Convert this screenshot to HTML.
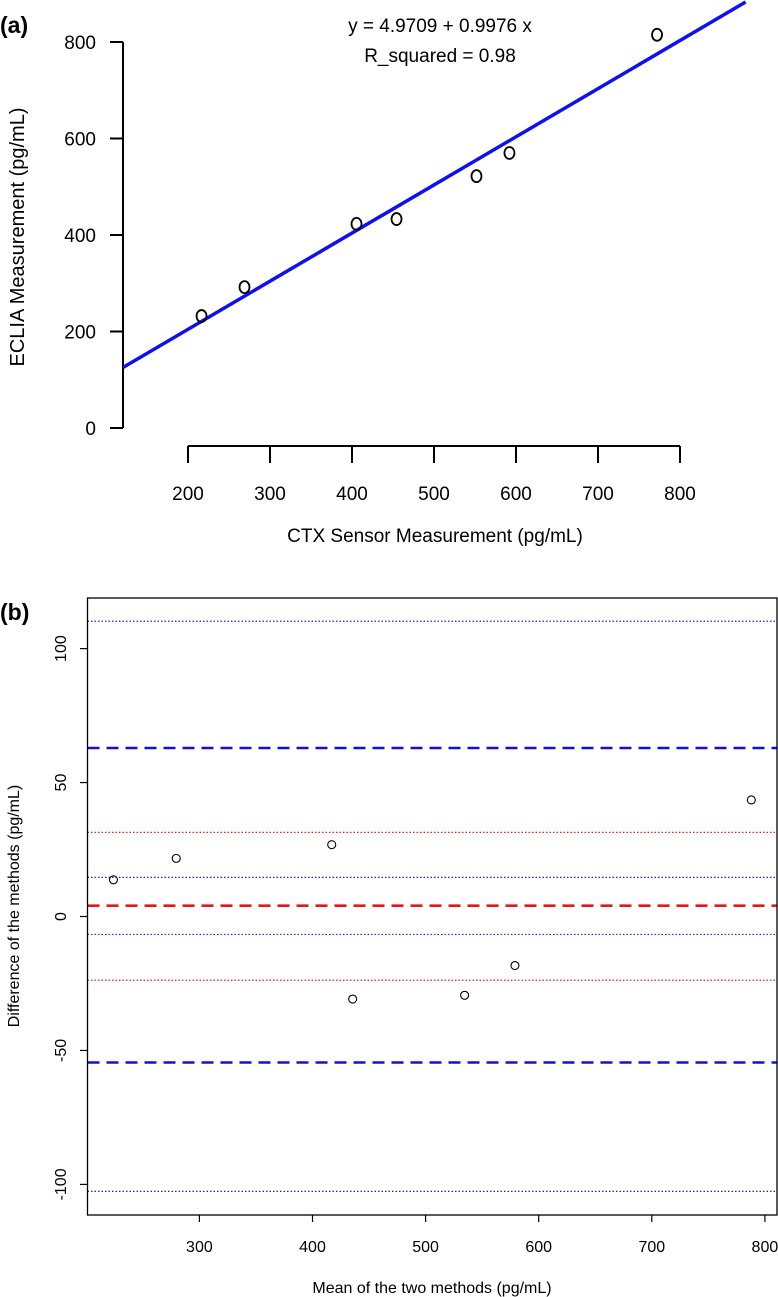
<!DOCTYPE html>
<html><head><meta charset="utf-8"><style>
body{margin:0;background:#fff;}
svg{display:block;font-family:"Liberation Sans",sans-serif;}
</style></head><body>
<svg id="c" width="778" height="1297" viewBox="0 0 778 1297"></svg>
<script>
// Panel (a) data
const aXTicks=[200,300,400,500,600,700,800];
const aYTicks=[0,200,400,600,800];
const aX=[216.5,268.9,405.5,454.3,551.8,592,772];
const aY=[232,292,423,433,522,570,815];
const regIntercept=4.9709, regSlope=0.9976;
// Panel (b) data
const bXTicks=[300,400,500,600,700,800];
const bYTicks=[-100,-50,0,50,100];
const bX=[224,279.5,417,435.5,534.5,579,788];
const bY=[13.7,21.7,26.8,-30.8,-29.4,-18.3,43.5];
const bLinesBlueDashed=[62.9,-54.5];
const bLinesBlueDotted=[110.2,14.6,-6.7,-102.6];
const bLineRedDashed=[4.05];
const bLinesRedDotted=[31.4,-23.8];

const NS="http://www.w3.org/2000/svg";
const svg=document.getElementById('c');
function mk(t,a,txt){const e=document.createElementNS(NS,t);for(const k in a)e.setAttribute(k,a[k]);if(txt!==undefined)e.textContent=txt;svg.appendChild(e);return e;}

// ---- Panel (a)
const ax=v=>188+(v-200)*0.82, ay=v=>428-v*0.4825;
let e;
e=mk('text',{x:0,y:33,'font-size':23,'font-weight':'bold'},'(a)');


e=mk('line',{x1:123,y1:ay(800),x2:123,y2:ay(0),stroke:'#000','stroke-width':2});


aYTicks.forEach(v=>{
 e=mk('line',{x1:110,y1:ay(v),x2:123,y2:ay(v),stroke:'#000','stroke-width':2});
 
 
 e=mk('text',{x:96,y:ay(v)+7,'font-size':19,'text-anchor':'end'},String(v));
 
 
});
e=mk('line',{x1:ax(200),y1:446,x2:ax(800),y2:446,stroke:'#000','stroke-width':2});


aXTicks.forEach(v=>{
 e=mk('line',{x1:ax(v),y1:446,x2:ax(v),y2:463,stroke:'#000','stroke-width':2});
 
 
 e=mk('text',{x:ax(v),y:500,'font-size':19,'text-anchor':'middle'},String(v));
 
 
});
const x0=121,x1=880;
e=mk('line',{x1:ax(x0),y1:ay(regIntercept+regSlope*x0),x2:ax(x1),y2:ay(regIntercept+regSlope*x1),stroke:'#1010e8','stroke-width':3.5});


aX.forEach((v,i)=>{
 e=mk('ellipse',{cx:ax(v),cy:ay(aY[i]),rx:5,ry:6,fill:'none',stroke:'#000','stroke-width':1.8});
 
 
});
e=mk('text',{x:440,y:32,'font-size':19,'text-anchor':'middle'},'y = 4.9709 + 0.9976 x');


e=mk('text',{x:440,y:62,'font-size':19,'text-anchor':'middle'},'R_squared = 0.98');


e=mk('text',{x:435,y:542,'font-size':19,'text-anchor':'middle'},'CTX Sensor Measurement (pg/mL)');


e=mk('text',{x:0,y:0,'font-size':20,'text-anchor':'middle',transform:'translate(24,237) rotate(-90)'},'ECLIA Measurement (pg/mL)');



// ---- Panel (b)
const bx=v=>199.4+(v-300)*1.131, by=v=>916.5-v*2.679;
e=mk('text',{x:0,y:620,'font-size':23,'font-weight':'bold'},'(b)');


const L=87.5,R=777,T=598,B=1215;
function hline(v,col,w,dash,name){
 e=mk('line',{x1:L,y1:by(v),x2:R,y2:by(v),stroke:col,'stroke-width':w,'stroke-dasharray':dash});
 
 
}
bLinesBlueDotted.forEach(v=>hline(v,'#2020e0',1.2,'1.5,2','blue-dotted-line'));
bLinesRedDotted.forEach(v=>hline(v,'#e02020',1.2,'1.5,2','red-dotted-line'));
bLinesBlueDashed.forEach(v=>hline(v,'#1010d8',2.6,'12,7','blue-dashed-line'));
bLineRedDashed.forEach(v=>hline(v,'#e01818',2.6,'12,7','red-dashed-line'));
e=mk('rect',{x:L,y:T,width:R-L,height:B-T,fill:'none',stroke:'#000','stroke-width':1.3});


bYTicks.forEach(v=>{
 e=mk('line',{x1:80,y1:by(v),x2:L,y2:by(v),stroke:'#000','stroke-width':1.2});
 
 
 e=mk('text',{x:0,y:0,'font-size':16,'text-anchor':'middle',transform:`translate(66,${by(v)}) rotate(-90)`},String(v));
 
 
});
bXTicks.forEach(v=>{
 e=mk('line',{x1:bx(v),y1:B,x2:bx(v),y2:B+7,stroke:'#000','stroke-width':1.2});
 
 
 e=mk('text',{x:bx(v),y:1252,'font-size':16,'text-anchor':'middle'},String(v));
 
 
});
bX.forEach((v,i)=>{
 e=mk('circle',{cx:bx(v),cy:by(bY[i]),r:4,fill:'none',stroke:'#000','stroke-width':1.1});
 
 
});
e=mk('text',{x:432,y:1293,'font-size':16,'text-anchor':'middle'},'Mean of the two methods (pg/mL)');


e=mk('text',{x:0,y:0,'font-size':16,'text-anchor':'middle',transform:'translate(19,906) rotate(-90)'},'Difference of the methods (pg/mL)');


</script>
</body></html>
